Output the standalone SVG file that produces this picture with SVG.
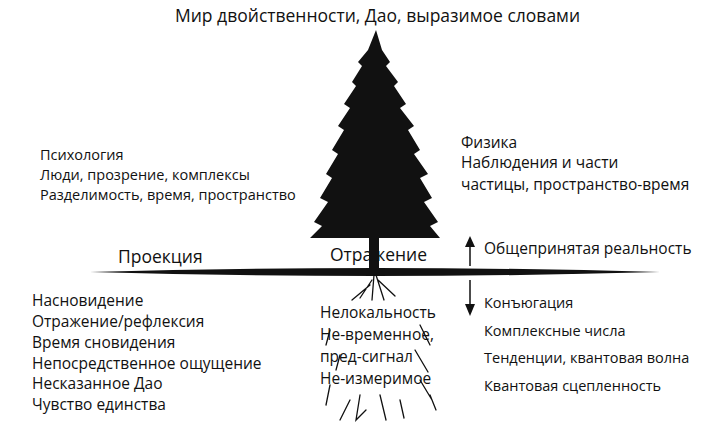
<svg xmlns="http://www.w3.org/2000/svg" width="716" height="431" viewBox="0 0 716 431">
<style>
text{font-family:"Open Sans","DejaVu Sans",sans-serif;fill:#111}
.s{font-size:14.5px}.m{font-size:15.5px}.l{font-size:17.5px}
.root{fill:none;stroke:#111;stroke-width:1.3;stroke-linecap:round}
</style>
<rect width="716" height="431" fill="#fff"/>
<text class="l" x="175" y="22">Мир двойственности, Дао, выразимое словами</text>
<g id="tree" fill="#111">
<polygon points="376,30 382,50 390,62 386,66 398,82 394,86 406,104 400,108 414,126 408,130 420,150 414,154 428,174 420,178 432,198 424,202 438,222 430,226 440,238 310,238 322,226 314,222 328,202 320,198 332,178 326,174 338,154 332,150 344,130 338,126 350,108 344,104 356,86 352,82 362,66 358,62 368,50"/>
<rect x="369" y="236" width="10" height="36"/>
</g>
<g id="ground">
<path d="M90,272 Q375,264 660,272 Q375,280 90,272Z" fill="#111"/>
</g>
<g id="roots" class="root">
<path d="M374,275 L372,300 M376,275 L384,300 M372,280 L360,298 M378,280 L395,296 M370,285 L352,300"/>
<path d="M330,330 L326,345 M420,325 L430,345 M340,355 L336,370 M415,350 L428,372 M420,380 L432,400 M330,385 L326,405 M350,400 L340,420 M380,395 L386,420 M400,400 L404,418 M360,395 L356,420 L366,410 M430,395 L436,410"/>
</g>
<g id="left-top" class="s">
<text class="s" x="40" y="160">Психология</text>
<text class="s" x="40" y="180">Люди, прозрение, комплексы</text>
<text class="s" x="40" y="200">Разделимость, время, пространство</text>
</g>
<g id="right-top">
<text class="m" x="461" y="148">Физика</text>
<text class="m" x="461" y="168">Наблюдения и части</text>
<text class="m" x="461" y="190">частицы, пространство-время</text>
</g>
<text class="l" x="118" y="263">Проекция</text>
<text class="l" x="330" y="261">Отражение</text>
<text class="m" x="484" y="254">Общепринятая реальность</text>
<g id="left-bottom">
<text class="m" x="32" y="306">Насновидение</text>
<text class="m" x="32" y="327">Отражение/рефлексия</text>
<text class="m" x="32" y="348">Время сновидения</text>
<text class="m" x="32" y="369">Непосредственное ощущение</text>
<text class="m" x="32" y="389">Несказанное Дао</text>
<text class="m" x="32" y="410">Чувство единства</text>
</g>
<g id="center-bottom">
<text class="m" x="320" y="318">Нелокальность</text>
<text class="m" x="320" y="340">Не-временное,</text>
<text class="m" x="320" y="362">пред-сигнал</text>
<text class="m" x="320" y="384">Не-измеримое</text>
</g>
<g id="right-bottom">
<text class="s" x="484" y="308">Конъюгация</text>
<text class="s" x="484" y="336">Комплексные числа</text>
<text class="s" x="484" y="363">Тенденции, квантовая волна</text>
<text class="s" x="484" y="391">Квантовая сцепленность</text>
</g>
<g id="connectors">
<line x1="470" y1="266" x2="470" y2="244" stroke="#111" stroke-width="1.5"/>
<polygon points="465,247 470,236 475,247" fill="#111"/>
<line x1="470" y1="280" x2="470" y2="306" stroke="#111" stroke-width="1.5"/>
<polygon points="465,304 470,316 475,304" fill="#111"/>
</g>
</svg>
